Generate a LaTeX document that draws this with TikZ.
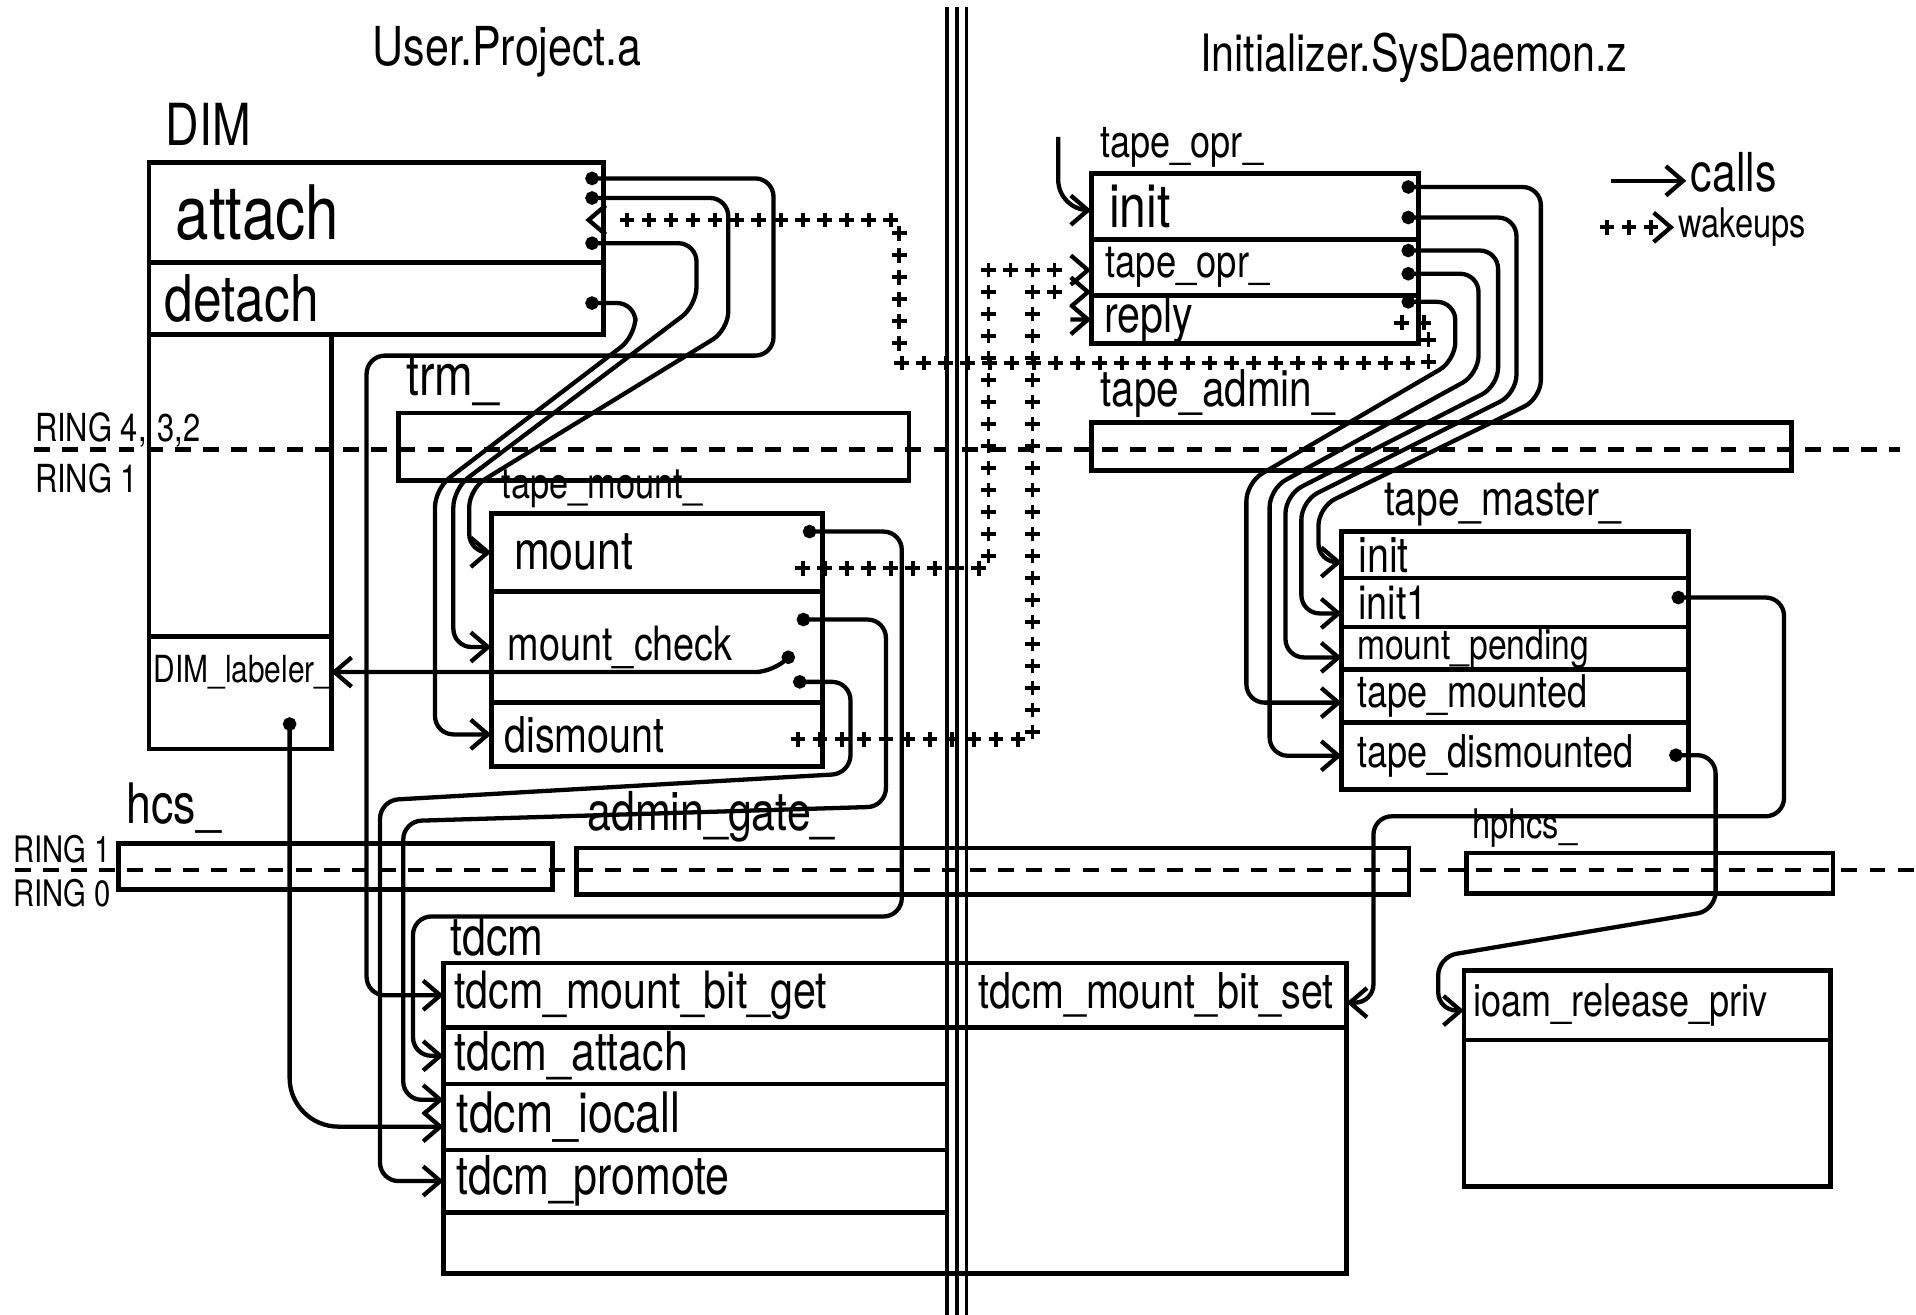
\documentclass[tikz,border=0pt]{standalone}
\usepackage{fontspec}
\setmainfont{TeX Gyre Heros}[FakeStretch=0.8]
\usetikzlibrary{arrows.meta,decorations.markings,positioning}
\newcommand\fsz[1]{\fontsize{#1}{#1}\selectfont}
\tikzset{
  fnrow/.style 2 args={draw, line width=1.1pt, anchor=north west, inner sep=0pt,
    outer sep=0pt, minimum width=#1mm, minimum height=#2mm},
  rowtext/.style={anchor=west, inner xsep=1.2mm, inner ysep=0pt},
  hdr/.style={anchor=south west, inner sep=0.4mm},
  ringline/.style={line width=1.1pt, dash pattern=on 1.3mm off 1mm},
  call/.style={line width=1pt, rounded corners=1.5mm,
    {Circle[length=1.1mm]}-{Straight Barb[length=1.4mm,width=2.4mm]}},
  callin/.style={line width=1pt, rounded corners=1.5mm,
    -{Straight Barb[length=1.4mm,width=2.4mm]}},
  wake/.style={decoration={markings,
      mark=between positions 0 and -1.8mm step 1.8mm with
        {\draw[line width=0.9pt] (-0.6mm,0) -- (0.6mm,0) (0,-0.6mm) -- (0,0.6mm);},
      mark=at position 1 with
        {\arrow[line width=1pt]{Straight Barb[length=1.4mm,width=2.4mm]}}},
    postaction={decorate}},
}
\begin{document}
\begin{tikzpicture}[x=1mm, y=-1mm]
\useasboundingbox (0,0) rectangle (156.8,107.6);

% ring boundaries
\draw[ringline] (2.8,36.8) -- (155.5,36.8);
\draw[ringline] (1.2,71.2) -- (156.8,71.2);
\node[anchor=base west, inner sep=0pt, font=\fsz{9}] (ring4) at (2.8,36.1) {RING 4,};
\node[anchor=base west, inner sep=0pt, font=\fsz{9}] (ring32) at (12.8,36.1) {3,2};
\node[anchor=base west, inner sep=0pt, font=\fsz{9}] (ring1a) at (2.8,40.3) {RING 1};
\node[anchor=base west, inner sep=0pt, font=\fsz{8.5}] (ring1b) at (1.0,70.6) {RING 1};
\node[anchor=base west, inner sep=0pt, font=\fsz{8.5}] (ring0) at (1.0,74.2) {RING 0};

% processes
\node[font=\fsz{12.5}] (userproj) at (41.5,4.2) {User.Project.a};
\node[font=\fsz{12}] (sysdaemon) at (115.7,4.7) {Initializer.SysDaemon.z};

% DIM
\node[fnrow={37.2}{8.2}, label={[rowtext,inner xsep=2.1mm,font=\fsz{17.5}]west:attach}] (attach) at (12.2,13.3) {};
\node[fnrow={37.2}{5.9}, label={[rowtext,font=\fsz{15}]west:detach}] (detach) at (attach.south west) {};
\node[fnrow={14.9}{24.7}] (dimcol) at (detach.south west) {};
\node[fnrow={14.9}{9.2}, label={[rowtext,inner xsep=0.3mm,yshift=1.7mm,font=\fsz{8.7}]west:DIM\_labeler\_}] (dimlab) at (dimcol.south west) {};
\node[hdr, font=\fsz{13.5}] (dimhdr) at ([shift={(0.9,-0.9)}]attach.north west) {DIM};

% trm_
\node[fnrow={41.8}{5.5}] (trm) at (32.6,33.8) {};
\node[hdr, font=\fsz{13.5}] (trmhdr) at ([shift={(0.2,-0.1)}]trm.north west) {trm\_};

% tape_mount_
\node[fnrow={27.1}{6.4}, label={[rowtext,inner xsep=1.8mm,font=\fsz{12.5}]west:mount}] (mount) at (40.2,42.0) {};
\node[fnrow={27.1}{9.1}, label={[rowtext,inner xsep=1.3mm,font=\fsz{11}]west:mount\_check}] (mcheck) at (mount.south west) {};
\node[fnrow={27.1}{5.2}, label={[rowtext,inner xsep=1.0mm,font=\fsz{11.5}]west:dismount}] (dismount) at (mcheck.south west) {};
\node[hdr, font=\fsz{10}] (tmhdr) at ([shift={(0.4,0)}]mount.north west) {tape\_mount\_};

% gates
\node[fnrow={35.5}{3.8}] (hcs) at (9.7,69.0) {};
\node[hdr, font=\fsz{13}] (hcshdr) at ([shift={(0.2,-0.3)}]hcs.north west) {hcs\_};
\node[fnrow={68.1}{3.8}] (agate) at (47.2,69.4) {};
\node[hdr, font=\fsz{12.5}] (agatehdr) at ([shift={(0.4,0)}]agate.north west) {admin\_gate\_};
\node[fnrow={30.0}{3.3}] (hphcs) at (120.0,69.8) {};
\node[hdr, font=\fsz{9.5}] (hphcshdr) at (hphcs.north west) {hphcs\_};

% tdcm
\node[fnrow={41.2}{5.3}, label={[rowtext,inner xsep=0.8mm,font=\fsz{12}]west:tdcm\_mount\_bit\_get}] (tget) at (36.3,78.8) {};
\node[fnrow={41.2}{4.6}, label={[rowtext,inner xsep=0.8mm,font=\fsz{12.5}]west:tdcm\_attach}] (tattach) at (tget.south west) {};
\node[fnrow={41.2}{5.4}, label={[rowtext,inner xsep=1.0mm,font=\fsz{13}]west:tdcm\_iocall}] (tiocall) at (tattach.south west) {};
\node[fnrow={41.2}{5.1}, label={[rowtext,inner xsep=1.0mm,font=\fsz{12.5}]west:tdcm\_promote}] (tpromote) at (tiocall.south west) {};
\node[fnrow={41.2}{5.0}] (tfoot) at (tpromote.south west) {};
\node[fnrow={32.7}{5.3}, label={[rowtext,inner xsep=2.5mm,font=\fsz{11.5}]west:tdcm\_mount\_bit\_set}] (tset) at (tget.north east) {};
\node[fnrow={32.7}{20.1}] (tsetfoot) at (tset.south west) {};
\node[hdr, font=\fsz{12.5}] (tdcmhdr) at ([shift={(0.1,-0.1)}]tget.north west) {tdcm};

% ioam
\node[fnrow={30.0}{5.7}, label={[rowtext,inner xsep=0.7mm,font=\fsz{10.5}]west:ioam\_release\_priv}] (ioam) at (119.8,79.4) {};
\node[fnrow={30.0}{12.0}] (ioamfoot) at (ioam.south west) {};

% tape_opr_
\node[fnrow={26.8}{5.4}, label={[rowtext,inner xsep=1.4mm,font=\fsz{14}]west:init}] (oinit) at (89.3,14.2) {};
\node[fnrow={26.8}{4.6}, label={[rowtext,inner xsep=1.1mm,font=\fsz{10.6}]west:tape\_opr\_}] (oopr) at (oinit.south west) {};
\node[fnrow={26.8}{3.9}, label={[rowtext,inner xsep=1.0mm,font=\fsz{12}]west:reply}] (oreply) at (oopr.south west) {};
\node[hdr, font=\fsz{10.5}] (oprhdr) at ([shift={(0.3,0)}]oinit.north west) {tape\_opr\_};

% tape_admin_
\node[fnrow={57.3}{3.9}] (tadmin) at (89.3,34.6) {};
\node[hdr, font=\fsz{11.8}] (tadminhdr) at ([shift={(0.3,0)}]tadmin.north west) {tape\_admin\_};

% tape_master_
\node[fnrow={28.4}{3.8}, label={[rowtext,inner xsep=1.3mm,font=\fsz{11.5}]west:init}] (tminit) at (109.8,43.5) {};
\node[fnrow={28.4}{4.0}, label={[rowtext,inner xsep=1.3mm,font=\fsz{11}]west:init1}] (tminit1) at (tminit.south west) {};
\node[fnrow={28.4}{3.5}, label={[rowtext,inner xsep=1.2mm,font=\fsz{9.8}]west:mount\_pending}] (tmpend) at (tminit1.south west) {};
\node[fnrow={28.4}{4.3}, label={[rowtext,inner xsep=1.2mm,font=\fsz{10.5}]west:tape\_mounted}] (tmmount) at (tmpend.south west) {};
\node[fnrow={28.4}{5.5}, label={[rowtext,inner xsep=1.2mm,font=\fsz{10.5}]west:tape\_dismounted}] (tmdism) at (tmmount.south west) {};
\node[hdr, font=\fsz{11.3}] (tmasterhdr) at ([shift={(3.0,0)}]tminit.north west) {tape\_master\_};

% legend
\coordinate (lgcall) at (131.8,14.8);
\node[anchor=west, inner sep=0.3mm, font=\fsz{12.5}] (lgcalls) at (138.0,14.1) {calls};
\draw[callin] (lgcall) -- (lgcalls.west |- lgcall);
\coordinate (lgwake) at (131.5,18.6);
\node[anchor=west, inner sep=0.3mm, font=\fsz{9.5}] (lgwakeups) at (137.0,18.6) {wakeups};
\path[wake] (lgwake) -- (lgwakeups.west |- lgwake);

% process boundary
\foreach \sx in {77.5,78.3,79.1}
  \draw[line width=0.9pt] (\sx,0.6) -- (\sx,107.6);

% entry points
\coordinate (at1) at ([shift={(-1.5,1.3)}]attach.north east);
\coordinate (at2) at ([shift={(-1.5,2.9)}]attach.north east);
\coordinate (atw) at ([shift={(-1.5,4.7)}]attach.north east);
\coordinate (at3) at ([shift={(-1.5,6.6)}]attach.north east);
\coordinate (de1) at ([shift={(-1.5,0.35)}]detach.east);
\coordinate (dl1) at ([shift={(-3.4,-2.6)}]dimlab.south east);
\coordinate (mo1) at ([shift={(-1.6,1.5)}]mount.north east);
\coordinate (mow) at ([shift={(-1.6,4.5)}]mount.north east);
\coordinate (mc1) at ([shift={(-2.1,2.3)}]mcheck.north east);
\coordinate (mc2) at ([shift={(-2.4,5.0)}]mcheck.north east);
\coordinate (mc3) at ([shift={(-2.4,7.4)}]mcheck.north east);
\coordinate (dmw) at ([shift={(-2.0,3.0)}]dismount.north east);
\coordinate (oi1) at ([shift={(-1.4,1.1)}]oinit.north east);
\coordinate (oi2) at ([shift={(-1.4,3.6)}]oinit.north east);
\coordinate (op1) at ([shift={(-1.4,0.9)}]oopr.north east);
\coordinate (op2) at ([shift={(-1.4,2.8)}]oopr.north east);
\coordinate (or1) at ([shift={(-1.4,0.5)}]oreply.north east);
\coordinate (orw) at ([shift={(-1.4,2.2)}]oreply.north east);
\coordinate (ti1) at ([shift={(-1.4,1.6)}]tminit1.north east);
\coordinate (td1) at ([shift={(-1.6,2.7)}]tmdism.north east);
\coordinate (opin) at (86.6,11.2);
\coordinate (rin) at (87.6,26.15);
\coordinate (w2c) at (80.9,0);
\coordinate (w3c) at (84.5,0);

% calls, User.Project.a
\draw[call] (at1) -| (63.3,29.1) -- (30.0,29.1) |- (tget.west);
\draw[call] (at2) -| (59.6,27.0) -- (38.4,40.0) |- (mount.west);
\draw[call] (at3) -| (57.0,25.0) -- (37.1,40.0) |- (mcheck.west);
\draw[call] (de1) -| (52.0,27.5) -- (35.6,40.0) |- (dismount.west);
\draw[call] (mo1) -| (73.8,75.0) -- (33.8,75.0) |- (tattach.west);
\draw[call] (mc1) -| (72.5,66.0) -- (33.0,67.2) |- ([shift={(0,-1.4)}]tiocall.west);
\draw[call] (mc2) -- (63.3,55.0) -- ([shift={(0,-1.7)}]dimlab.east);
\draw[call] (mc3) -| (69.6,63.3) -- (31.1,65.5) |- (tpromote.west);
\draw[call, rounded corners=4mm] (dl1) |- ([shift={(0,0.8)}]tiocall.west);

% calls, Initializer.SysDaemon.z
\draw[call] (oi1) -| (126.1,32.6) -- (107.9,41.5) |- ([shift={(0,0.6)}]tminit.west);
\draw[call] (oi2) -| (124.1,32.2) -- (106.5,41.0) |- ([shift={(0,0.9)}]tminit1.west);
\draw[call] (op1) -| (122.6,31.6) -- (105.2,40.5) |- ([shift={(0,0.75)}]tmpend.west);
\draw[call] (op2) -| (121.0,30.6) -- (103.9,40.0) |- (tmdism.west);
\draw[call] (or1) -| (119.1,29.5) -- (102.0,39.5) |- ([shift={(0,0.55)}]tmmount.west);
\draw[call] (ti1) -| (146.0,66.8) -- (112.4,66.8) |- ([shift={(0,0.6)}]tset.east);
\draw[call] (td1) -| (140.4,74.5) -- (117.7,78.3) |- ([shift={(0,0.45)}]ioam.west);
\draw[callin, rounded corners=2.5mm] (opin) |- ([shift={(0,0.3)}]oinit.west);
\draw[callin] (rin) -- (oreply.west);

% wakeups
\path[wake] (orw) -| (116.9,29.7) -- (73.6,29.7) |- (atw);
\path[wake] (mow) -- (mow -| w2c) |- ([shift={(0,0.2)}]oopr.west);
\path[wake] (dmw) -- (dmw -| w3c) |- ([shift={(0,-0.3)}]oopr.south west);
\end{tikzpicture}
\end{document}
